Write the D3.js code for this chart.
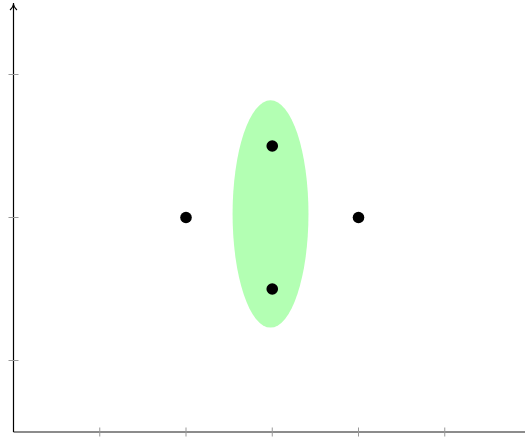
<!DOCTYPE html>
<html>
<head>
<meta charset="utf-8">
<script src="https://cdn.jsdelivr.net/npm/d3@7"></script>
<style>
  body { margin: 0; background: #fff; }
</style>
</head>
<body>
<div id="chart"></div>
<script>
// chart size
const width = 525,
    height = 443;

// data
const xTicks = [1, 2, 3, 4, 5]
const yTicks = [1, 3, 5]
const pointsX = [2, 3, 4, 3]
const pointsY = [3, 4, 3, 2]
// ellipse: center and radii in data units
const ellipseCenter = [2.98, 3.05]
const ellipseRadii = [0.44, 1.59]

const svg = d3.select("#chart")
    .append("svg")
    .attr("width", width)
    .attr("height", height);

const x = d3.scaleLinear()
    .domain([0, 6])
    .range([13.5, 531])

const y = d3.scaleLinear()
    .domain([0, 6])
    .range([432, 3])

// green ellipse
svg.append("ellipse")
    .attr("cx", x(ellipseCenter[0]))
    .attr("cy", y(ellipseCenter[1]))
    .attr("rx", x(ellipseRadii[0]) - x(0))
    .attr("ry", y(0) - y(ellipseRadii[1]))
    .attr("fill", "#b3ffb3")

// x axis (gray)
svg.append("line")
    .attr("x1", x(0)).attr("x2", x(6))
    .attr("y1", y(0)).attr("y2", y(0))
    .attr("stroke", "#666")
    .attr("stroke-width", 1.4)

svg.selectAll(".xtick")
    .data(xTicks)
    .join("line")
    .attr("class", "xtick")
    .attr("x1", d => x(d)).attr("x2", d => x(d))
    .attr("y1", y(0) - 4.5).attr("y2", y(0) + 4.5)
    .attr("stroke", "#999")
    .attr("stroke-width", 1)

// y axis (black) with arrow
svg.append("line")
    .attr("x1", x(0)).attr("x2", x(0))
    .attr("y1", y(0)).attr("y2", y(6) + 2)
    .attr("stroke", "#000")
    .attr("stroke-width", 1.2)

svg.append("path")
    .attr("d", `M${x(0) - 3.5},${y(6) + 7} Q${x(0)},${y(6) + 4} ${x(0)},${y(6)} Q${x(0)},${y(6) + 4} ${x(0) + 3.5},${y(6) + 7}`)
    .attr("fill", "none")
    .attr("stroke", "#000")
    .attr("stroke-width", 1.1)

svg.selectAll(".ytick")
    .data(yTicks)
    .join("line")
    .attr("class", "ytick")
    .attr("x1", x(0) - 5).attr("x2", x(0) + 5)
    .attr("y1", d => y(d)).attr("y2", d => y(d))
    .attr("stroke", "#999")
    .attr("stroke-width", 1)

// points
svg.selectAll("circle")
    .data(pointsX.map((d, i) => [d, pointsY[i]]))
    .join("circle")
    .attr("cx", d => x(d[0]))
    .attr("cy", d => y(d[1]))
    .attr("r", 5.8)
    .attr("fill", "#000")
</script>
</body>
</html>
